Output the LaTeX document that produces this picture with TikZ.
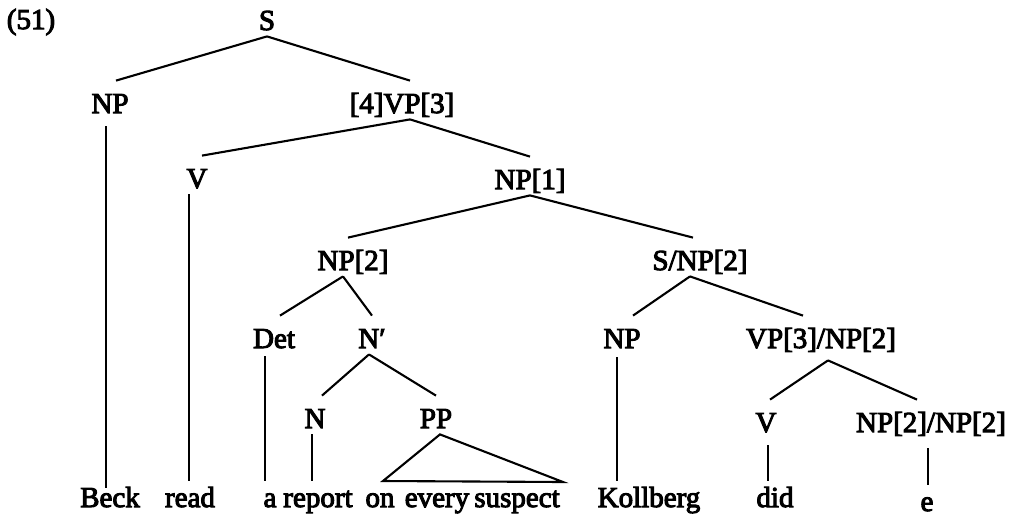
\documentclass[tikz,border=0pt]{standalone}
\usepackage{fontspec}
\setmainfont{Liberation Serif}[FakeBold=3.5]
\begin{document}
\begin{tikzpicture}[x=0.5pt,y=-0.5pt,
  every node/.style={font=\fontsize{14.5pt}{16pt}\selectfont, inner sep=0pt, anchor=base},
  cat/.style={text height=16pt, text depth=3pt},
  word/.style={text height=13pt, text depth=0pt},
  branch/.style={line width=1.05pt},
  stem/.style={line width=0.8pt}]
\useasboundingbox (0,0) rectangle (1014,516);

% example number
\node (num) at (31,29) {(51)};

% phrase labels
\node[cat] (S)    at (267,30)  {S};
\node[cat] (NPa)  at (110,113) {NP};
\node[cat] (VP)   at (402,113) {[4]VP[3]};
\node[cat] (Va)   at (197,188) {V};
\node[cat] (NP1)  at (530,189) {NP[1]};
\node[cat] (NP2)  at (353,270) {NP[2]};
\node[cat] (SNP)  at (700,270) {S/NP[2]};
\node[cat] (Det)  at (274,348) {Det};
\node[cat] (Nbar) at (372,348) {N′};
\node[cat] (NPk)  at (622,348) {NP};
\node[cat] (VP3)  at (821,348) {VP[3]/NP[2]};
\node[cat] (N)    at (315,428) {N};
\node[cat] (PP)   at (436,428) {PP};
\node[cat] (Vd)   at (766,432) {V};
\node[cat] (NP22) at (931,432) {NP[2]/NP[2]};

% words
\node[word] (beck)     at (110,507) {Beck};
\node[word] (read)     at (190,507) {read};
\node[word] (a)        at (270,507) {a};
\node[word] (report)   at (318,507) {report};
\node[word] (on)       at (380,507) {on};
\node[word] (every)    at (437,507) {every};
\node[word] (suspect)  at (517,507) {suspect};
\node[word] (kollberg) at (649,507) {Kollberg};
\node[word] (did)      at (775,507) {did};
\node[word] (e)        at (927,511) {e};

% branches
\draw[branch] (S.south) -- ([xshift=3pt]NPa.north);
\draw[branch] (S.south) -- ([xshift=4pt]VP.north);
\draw[branch] ([xshift=4pt]VP.south) -- ([xshift=2.5pt]Va.north);
\draw[branch] ([xshift=4pt]VP.south) -- (NP1.north);
\draw[branch] (NP1.south) -- ([xshift=-2.5pt]NP2.north);
\draw[branch] (NP1.south) -- ([xshift=-3.5pt]SNP.north);
\draw[branch] ([xshift=-5pt]NP2.south) -- ([xshift=3pt]Det.north);
\draw[branch] ([xshift=-5pt]NP2.south) -- (Nbar.north);
\draw[branch] ([xshift=-5pt]SNP.south) -- ([xshift=5.5pt]NPk.north);
\draw[branch] ([xshift=-5pt]SNP.south) -- ([xshift=-9pt]VP3.north);
\draw[branch] ([xshift=-1.5pt]Nbar.south) -- ([xshift=3.5pt]N.north);
\draw[branch] ([xshift=-1.5pt]Nbar.south) -- (PP.north);
\draw[branch] ([shift={(7,6)}]VP3.south) -- ([xshift=2pt]Vd.north);
\draw[branch] ([shift={(7,6)}]VP3.south) -- ([xshift=-7pt]NP22.north);

% roof over the prepositional phrase
\coordinate (roofL) at (383,481);
\coordinate (roofR) at (563,482);
\draw[branch, line join=miter] ([xshift=2pt]PP.south) -- (roofL) -- (roofR) -- cycle;

% unary stems down to the words
\draw[stem] ([shift={(-4,7)}]NPa.south)   -- ([shift={(-4,7)}]NPa.south |- beck.north);
\draw[stem] ([xshift=-4pt]Va.south)       -- ([xshift=-4pt]Va.south |- read.north);
\draw[stem] ([shift={(-9,2)}]Det.south)   -- ([xshift=-4.5pt]Det.south |- a.north);
\draw[stem] ([xshift=-1.5pt]N.south)      -- ([xshift=-1.5pt]N.south |- report.north);
\draw[stem] ([shift={(-5,3)}]NPk.south)   -- ([xshift=-2.5pt]NPk.south |- kollberg.north);
\draw[stem] ([shift={(2,7)}]Vd.south)     -- ([xshift=1pt]Vd.south |- did.north);
\draw[stem] ([shift={(-3,10)}]NP22.south) -- ([xshift=-1.5pt]NP22.south |- e.north);
\end{tikzpicture}
\end{document}
